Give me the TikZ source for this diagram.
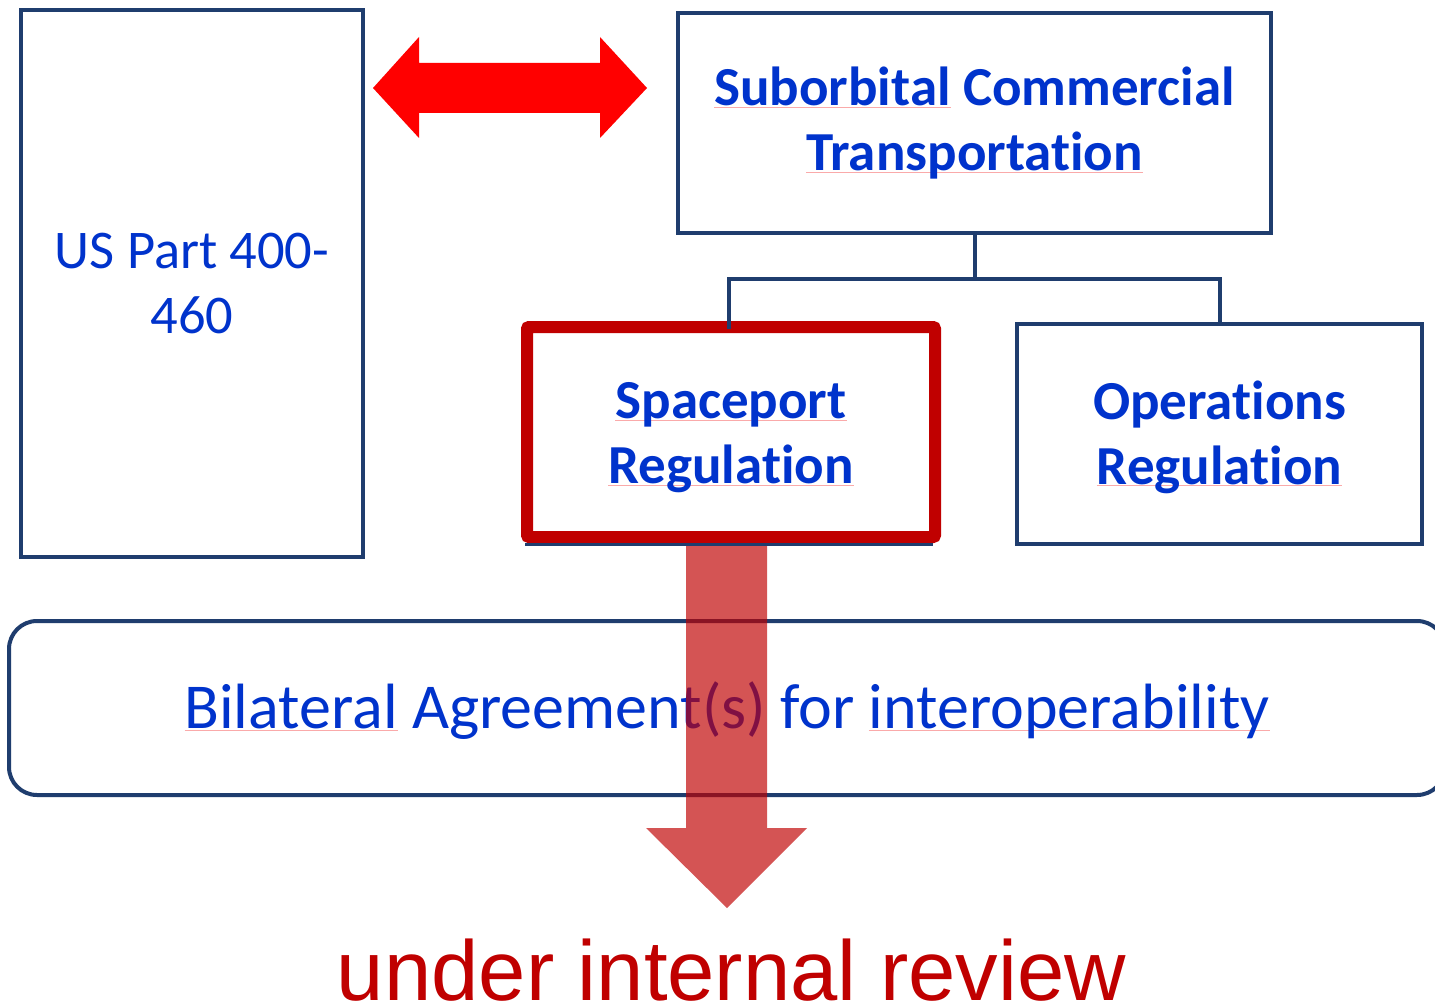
\documentclass[tikz,border=0pt]{standalone}
\usepackage{fontspec}
\setmainfont{Carlito}[Ligatures=NoCommon]
\newfontfamily\arialfont{Liberation Sans}
\definecolor{navyline}{RGB}{31,61,110}
\definecolor{textblue}{RGB}{0,51,204}
\definecolor{darkred}{RGB}{192,0,0}
\definecolor{brightred}{RGB}{255,0,0}
\definecolor{spellpink}{RGB}{250,170,170}
% word with a thin pink underline
\newcommand\spl[1]{\leavevmode\setbox0\hbox{#1}\rlap{\textcolor{spellpink}{\rule[-2.2pt]{\wd0}{0.9pt}}}\box0\relax}
\tikzset{
  boxline/.style={draw=navyline, line width=3.5pt},
  conn/.style={draw=navyline, line width=4pt},
  frame/.style={boxline, rectangle, inner sep=0pt, outer sep=0pt},
  plaintext/.style={align=center, inner sep=0pt, text=textblue,
    font=\fontsize{54.5}{65}\selectfont},
  boldtext/.style={plaintext, font=\fontsize{55}{65}\selectfont\bfseries},
}
\begin{document}
\begin{tikzpicture}[x=1pt,y=-1pt]
\useasboundingbox (0,0) rectangle (1435,1006);
\fill[white] (0,0) rectangle (1435,1006);
\clip (0,0) rectangle (1435,1006);

% left box
\node[frame, minimum width=342pt, minimum height=547pt] (us) at (192,283.5) {};
\node[plaintext] (us-t) at (us.center) {US Part 400-\\460};

% top box and its two children
\node[frame, minimum width=593pt, minimum height=220pt] (sct) at (974.5,123) {};
\node[boldtext] (sct-t) at (sct.center) {\spl{Suborbital} Commercial\\\spl{Transportation}};
\node[frame, minimum width=405pt, minimum height=220pt] (ops) at (1219.5,434) {};
\node[boldtext] (ops-t) at ([yshift=-3pt]ops.center) {Operations\\\spl{Regulation}};
\node[frame, draw=darkred, line width=12pt, rounded corners=2pt,
      minimum width=408pt, minimum height=210pt] (spr) at (731,432) {};
\node[boldtext] (spr-t) at ([yshift=-6pt]spr.center) {\spl{Spaceport}\\\spl{Regulation}};
\draw[boxline] ([xshift=-2pt,yshift=-7.5pt]spr.south west) -- ([xshift=-2pt,yshift=-7.5pt]spr.south east);

% tree connectors
\coordinate (hub) at (974.5,279);
\draw[conn] (sct.south) -- (hub);
\draw[conn] ([xshift=-2pt,yshift=-2pt]spr.north) |- (hub) -| (ops.north);

% double arrow between the left box and the top box
\fill[brightred] (373,88) -- (419,37) -- (419,63) -- (600,63) -- (600,37)
  -- (647,88) -- (600,138) -- (600,113) -- (419,113) -- (419,138) -- cycle;

% agreement band
\node[frame, line width=4pt, rounded corners=28pt, minimum width=1436pt,
      minimum height=174pt] (bil) at (727,708) {};
\node[plaintext, font=\fontsize{64}{76}\selectfont] (bil-t) at ([yshift=-3pt]bil.center)
  {\spl{Bilateral} Agreement(s) for \spl{interoperability}};

% translucent down arrow
\fill[darkred, fill opacity=0.67] (686,546) -- (767,546) -- (767,828) -- (807,828)
  -- (727,908) -- (646,828) -- (686,828) -- cycle;

\node[anchor=base, text=darkred, inner sep=0pt, text depth=0pt,
      font=\arialfont\fontsize{85}{100}\selectfont] (rev) at (731.5,1000)
  {under internal review};
\end{tikzpicture}
\end{document}
